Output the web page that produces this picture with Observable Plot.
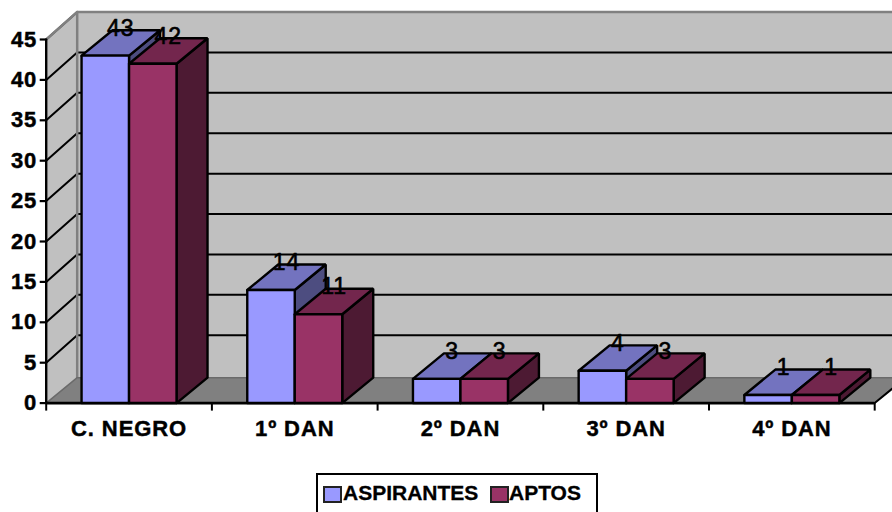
<!DOCTYPE html>
<html><head><meta charset="utf-8">
<script src="https://cdn.jsdelivr.net/npm/d3@7"></script>
<script src="https://cdn.jsdelivr.net/npm/@observablehq/plot@0.6"></script>
<style>
html,body{margin:0;padding:0;background:#fff;overflow:hidden;width:892px;height:512px}
#legend{position:absolute;left:316px;top:473px;width:278px;height:60px;border:2px solid #000;background:#fff;
 font:bold 21px "Liberation Sans",Arial,sans-serif;color:#000}
#legend i{position:absolute;top:11px;width:15px;height:13px;border:2px solid #222}
#legend span{position:absolute;top:6px;line-height:24px;-webkit-text-stroke:0.3px #000}
g[aria-label$="tick label"] text{stroke:#000;stroke-width:.45px}
</style></head><body>
<div id="chart"></div>
<div id="legend"></div>
<script>
const categories = ["C. NEGRO","1º DAN","2º DAN","3º DAN","4º DAN"];
const seriesNames = ["ASPIRANTES","APTOS"];
const aspirantes = [43,14,3,4,1];
const aptos = [42,11,3,3,1];
const yTicks = [0,5,10,15,20,25,30,35,40,45];
const xTicks = [0,1,2,3,4,5];
const frontColors = ["#9999ff","#993366"];
const topColors = ["#7373bf","#73264d"];
const sideColors = ["#4d4d80","#4d1a33"];

// projection depth, in scale units
const dx = 0.187, dyBar = 3.15, dyWall = 3.4;
const barW = 0.2866, gapL = 0.2134;

const faces = [];
let faceCount = 0;
const poly = (fill, pts) => {
  const id = faceCount++;
  pts.concat([pts[0]]).forEach(p => faces.push({id, fill, x:p[0], y:p[1]}));
};
const series = [aspirantes, aptos];
categories.forEach((c,i) => series.forEach((vals,s) => {
  const v = vals[i], x0 = i + gapL + s*barW, x1 = x0 + barW;
  poly(sideColors[s], [[x1,0],[x1+dx,dyBar],[x1+dx,v+dyBar],[x1,v]]);
  poly(topColors[s], [[x0,v],[x1,v],[x1+dx,v+dyBar],[x0+dx,v+dyBar]]);
  poly(frontColors[s], [[x0,0],[x1,0],[x1,v],[x0,v]]);
}));

const xEnd = 5 + dx, wallTop = 45 + dyWall;
const toRows = (id,fill,pts)=>pts.concat([pts[0]]).map(p=>({id,fill,x:p[0],y:p[1]}));
const walls = [
  ...toRows("left","#c0c0c0",[[0,0],[dx,dyBar],[dx,wallTop],[0,45]]),
  ...toRows("back","#c0c0c0",[[dx,dyBar],[xEnd,dyBar],[xEnd,wallTop],[dx,wallTop]]),
  ...toRows("floor","#808080",[[0,0],[5,0],[xEnd,dyBar],[dx,dyBar]])
];
const grid = yTicks.filter(t=>t>0).flatMap(t=>[
  {id:t,x:0,y:t},{id:t,x:dx,y:t+dyWall},{id:t,x:xEnd,y:t+dyWall}
]);
const edges = [
  {id:"a",x:0,y:45},{id:"a",x:dx,y:wallTop},{id:"a",x:xEnd,y:wallTop},
  {id:"b",x:dx,y:wallTop},{id:"b",x:dx,y:dyBar}
];
const floorEdges = [
  {id:"c",x:0,y:0},{id:"c",x:dx,y:dyBar},{id:"c",x:xEnd,y:dyBar}
];
const labels = categories.flatMap((c,i)=>series.map((vals,s)=>({
  x:i+gapL+s*barW+barW/2+dx/2, y:vals[i]+dyBar, t:String(vals[i])
})));
const frameLine = [{id:"y",x:0,y:0},{id:"y",x:0,y:45}];
const endTick = [{id:"e",x:5,y:0},{id:"e",x:xEnd,y:dyBar}];

const pxX = 165.7, pxY = 8.08;
const plot = Plot.plot({
  width:892, height:470,
  marginLeft:45.7, marginRight:0, marginTop:0, marginBottom:67.4,
  style:{background:"#fff",overflow:"hidden",fontFamily:"'Liberation Sans',Arial,sans-serif",fontSize:"22px",letterSpacing:"0.9px",color:"#000"},
  x:{type:"linear",domain:[0,(892-45.7)/pxX],axis:null},
  y:{type:"linear",domain:[0,402.6/pxY],axis:null},
  color:{type:"identity"},
  marks:[
    Plot.line(walls,{x:"x",y:"y",z:"id",fill:"fill",stroke:"none"}),
    Plot.line(grid,{x:"x",y:"y",z:"id",stroke:"#000",strokeWidth:2}),
    Plot.line(edges,{x:"x",y:"y",z:"id",stroke:"#808080",strokeWidth:2.5}),
    Plot.line(floorEdges,{x:"x",y:"y",z:"id",stroke:"#6a6a6a",strokeWidth:1.5}),
    Plot.line(faces,{x:"x",y:"y",z:"id",fill:"fill",stroke:"#000",strokeWidth:2.4,strokeLinejoin:"miter"}),
    Plot.line(frameLine,{x:"x",y:"y",z:"id",stroke:"#000",strokeWidth:2.4}),
    Plot.ruleY([0],{x1:0,x2:5,stroke:"#000",strokeWidth:2.6}),
    Plot.line(endTick,{x:"x",y:"y",z:"id",stroke:"#000",strokeWidth:2}),
    Plot.axisY({ticks:yTicks,tickSize:6,tickPadding:3,stroke:"#000",strokeWidth:2.2,fontWeight:"bold",fontSize:22,label:null}),
    Plot.axisX({ticks:xTicks,tickSize:8,stroke:"#000",strokeWidth:2,tickFormat:()=>"",label:null}),
    Plot.axisX({ticks:categories.map((c,i)=>i+0.5),tickSize:0,tickPadding:17,fontWeight:"bold",fontSize:22,tickFormat:d=>categories[d-0.5],label:null}),
    Plot.text(labels,{x:"x",y:"y",text:"t",dy:-2,fontSize:23,fill:"#000",stroke:"#000",strokeWidth:0.6,textAnchor:"middle",lineAnchor:"middle"})
  ]
});
document.getElementById("chart").appendChild(plot);

const lg = document.getElementById("legend");
[[5,25],[172,191]].forEach(([sx,tx],k)=>{
  const i=document.createElement("i");i.style.left=sx+"px";i.style.background=frontColors[k];lg.appendChild(i);
  const t=document.createElement("span");t.style.left=tx+"px";t.textContent=seriesNames[k];lg.appendChild(t);
});
</script>
</body></html>
